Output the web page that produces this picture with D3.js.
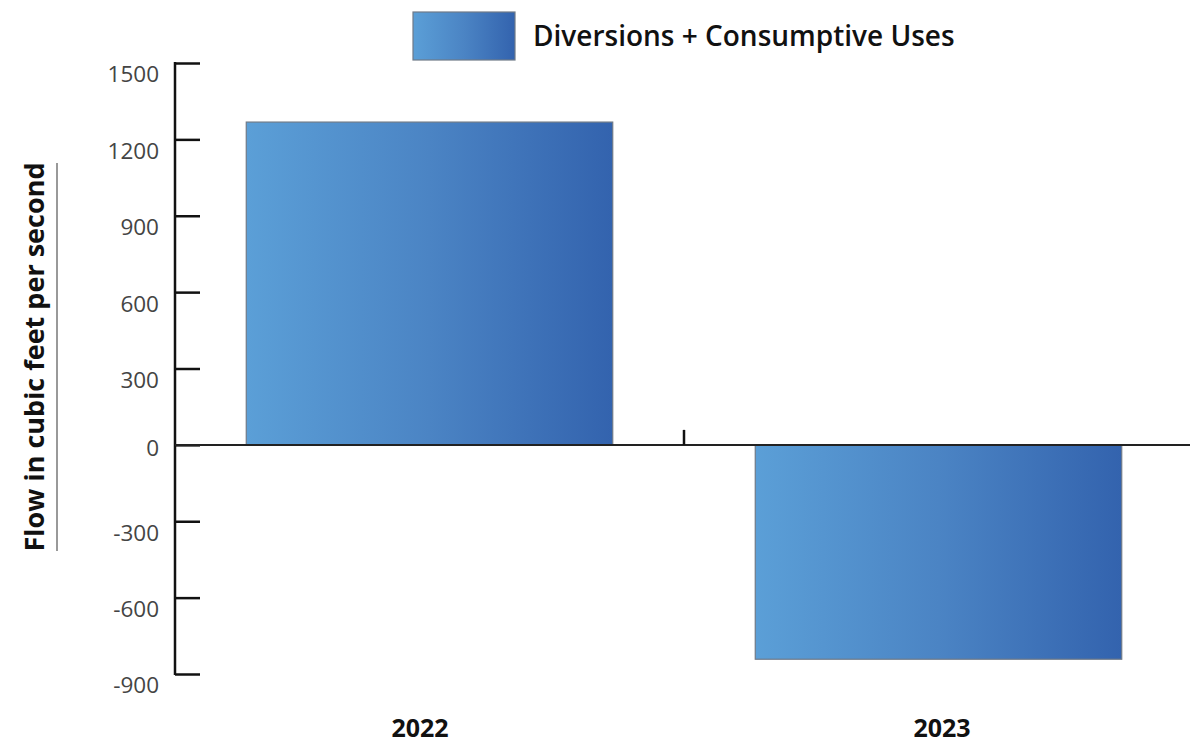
<!DOCTYPE html>
<html>
<head>
<meta charset="utf-8">
<script src="https://cdn.jsdelivr.net/npm/d3@7"></script>
<style>
  html, body { margin: 0; padding: 0; background: #fff; }
  svg { display: block; }
</style>
</head>
<body>
<svg id="chart" width="1190" height="744"></svg>
<script>
// Net flow by water year
const years = ["2022", "2023"];
const flows = [1268, -842];
const yTicks = [1500, 1200, 900, 600, 300, 0, -300, -600, -900];
const seriesName = "Diversions + Consumptive Uses";
const yTitle = "Flow in cubic feet per second";

const svg = d3.select("#chart");
const W = 1190, H = 744;
const plot = { left: 175, right: 1193, top: 63, bottom: 674 };

const x = d3.scaleBand()
  .domain(years)
  .range([plot.left, plot.right])
  .paddingInner(0.28)
  .paddingOuter(0.14);

// Category labels sit on their own slightly wider spacing
const xLabel = d3.scalePoint()
  .domain(years)
  .range([420, 942]);

const y = d3.scaleLinear()
  .domain([-900, 1500])
  .range([plot.bottom, plot.top]);

// Horizontal blue gradient used by the bars and the legend swatch
const defs = svg.append("defs");
const grad = defs.append("linearGradient")
  .attr("id", "barGrad")
  .attr("x1", "0%").attr("x2", "100%")
  .attr("y1", "0%").attr("y2", "0%");
grad.append("stop").attr("offset", "0%").attr("stop-color", "#5b9fd7");
grad.append("stop").attr("offset", "50%").attr("stop-color", "#4b84c4");
grad.append("stop").attr("offset", "100%").attr("stop-color", "#3363ae");

// Bars
svg.append("g").selectAll("rect")
  .data(years.map((yr, i) => ({ yr, v: flows[i] })))
  .join("rect")
  .attr("x", d => x(d.yr))
  .attr("width", x.bandwidth())
  .attr("y", d => y(Math.max(0, d.v)))
  .attr("height", d => Math.abs(y(d.v) - y(0)))
  .attr("fill", "url(#barGrad)")
  .attr("stroke", "#6f7a88")
  .attr("stroke-width", 1.2);

// Y axis: ticks point into the plot, labels on the left just below each tick
const yAxis = d3.axisRight(y)
  .tickValues(yTicks)
  .tickSize(25)
  .tickFormat(d => String(d));

const gy = svg.append("g")
  .attr("transform", `translate(${plot.left},0)`)
  .call(yAxis);
gy.select(".domain").remove();
gy.selectAll(".tick line").attr("stroke", "#111").attr("stroke-width", 2.5);
gy.selectAll(".tick text")
  .attr("x", -16)
  .attr("y", d => d === 0 ? 3 : 11)
  .attr("dy", "0.35em")
  .attr("text-anchor", "end")
  .attr("fill", "#444")
  .style("font-family", "'Open Sans', sans-serif")
  .style("font-size", "22.5px");

gy.append("line")
  .attr("x1", 0).attr("x2", 0)
  .attr("y1", y(1500) - 1).attr("y2", y(-900) + 1)
  .attr("stroke", "#111").attr("stroke-width", 2.5);

// Zero baseline with a category divider tick
svg.append("line")
  .attr("x1", plot.left).attr("x2", W)
  .attr("y1", y(0)).attr("y2", y(0))
  .attr("stroke", "#222").attr("stroke-width", 2);

const divX = x(years[1]) - x.step() * x.paddingInner() / 2;
svg.append("line")
  .attr("x1", divX).attr("x2", divX)
  .attr("y1", y(0)).attr("y2", y(0) - 15)
  .attr("stroke", "#111").attr("stroke-width", 2.5);

// Category labels
svg.append("g").selectAll("text")
  .data(years)
  .join("text")
  .attr("x", d => xLabel(d))
  .attr("y", 737)
  .attr("text-anchor", "middle")
  .attr("fill", "#111")
  .style("font-family", "'Open Sans', sans-serif")
  .style("font-weight", "700")
  .style("font-size", "25px")
  .text(d => d);

// Y axis title and its rule
svg.append("text")
  .attr("transform", `translate(35,357) rotate(-90)`)
  .attr("dy", "0.35em")
  .attr("text-anchor", "middle")
  .attr("fill", "#111")
  .style("font-family", "'Open Sans', sans-serif")
  .style("font-weight", "700")
  .style("font-size", "27px")
  .text(yTitle);

svg.append("line")
  .attr("x1", 57).attr("x2", 57)
  .attr("y1", 163).attr("y2", 551)
  .attr("stroke", "#777").attr("stroke-width", 1.5);

// Legend
const lg = svg.append("g");
lg.append("rect")
  .attr("x", 413).attr("y", 12)
  .attr("width", 102).attr("height", 48)
  .attr("fill", "url(#barGrad)")
  .attr("stroke", "#6f7a88").attr("stroke-width", 1.2);
lg.append("text")
  .attr("x", 533).attr("y", 46)
  .attr("fill", "#111")
  .style("font-family", "'Open Sans', sans-serif")
  .style("font-weight", "600")
  .style("font-size", "28px")
  .text(seriesName);
</script>
</body>
</html>
